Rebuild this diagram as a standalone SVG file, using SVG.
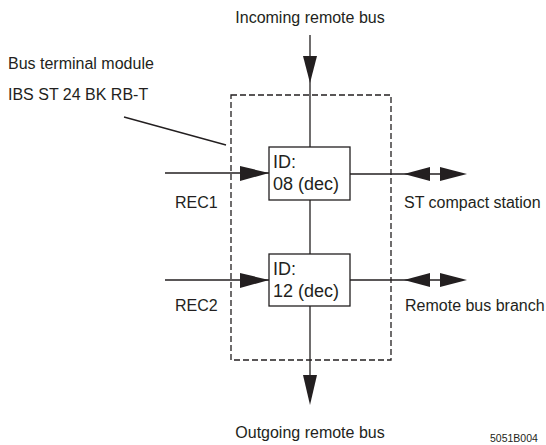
<svg xmlns="http://www.w3.org/2000/svg" width="546" height="445" viewBox="0 0 546 445">
<style>
.t{font-family:"Liberation Sans",Arial,sans-serif;font-size:16px;fill:#231f20}
.b{font-family:"Liberation Sans",Arial,sans-serif;font-size:18px;fill:#231f20}
.s{font-family:"Liberation Sans",Arial,sans-serif;font-size:10.5px;fill:#231f20}
.ln{stroke:#231f20;stroke-width:1.3;fill:none}
.ah{fill:#231f20;stroke:none}
.box{fill:#fff;stroke:#231f20;stroke-width:1.3}
.dash{fill:none;stroke:#231f20;stroke-width:1.3;stroke-dasharray:6,3}
</style>
<rect width="546" height="445" fill="#fff"/>
<g id="module">
<rect class="dash" x="231" y="95" width="160" height="265"/>
</g>
<g id="connectors">
<line class="ln" x1="310" y1="35" x2="310" y2="147"/>
<polygon class="ah" points="303,56 317,56 310,83"/>
<line class="ln" x1="310" y1="200" x2="310" y2="254"/>
<line class="ln" x1="310" y1="306" x2="310" y2="378"/>
<polygon class="ah" points="303,375 317,375 310,405"/>
<line class="ln" x1="165" y1="173" x2="269" y2="173"/>
<polygon class="ah" points="240,166 240,181 269,173"/>
<line class="ln" x1="165" y1="280" x2="269" y2="280"/>
<polygon class="ah" points="240,273 240,288 269,280"/>
<line class="ln" x1="350" y1="174" x2="442" y2="174"/>
<polygon class="ah" points="404,174 430,167 430,181"/>
<polygon class="ah" points="440,167 440,181 467,174"/>
<line class="ln" x1="350" y1="280" x2="442" y2="280"/>
<polygon class="ah" points="404,280 430,273 430,287"/>
<polygon class="ah" points="440,273 440,287 467,280"/>
<line class="ln" x1="124" y1="117" x2="226" y2="145"/>
</g>
<g id="node1">
<rect class="box" x="269" y="147" width="81" height="53"/>
<text class="b" x="273" y="168">ID:</text>
<text class="b" x="273" y="190">08 (dec)</text>
</g>
<g id="node2">
<rect class="box" x="269" y="254" width="81" height="52"/>
<text class="b" x="273" y="275">ID:</text>
<text class="b" x="273" y="297">12 (dec)</text>
</g>
<g id="labels">
<text class="t" x="310" y="23" text-anchor="middle">Incoming remote bus</text>
<text class="t" x="8" y="69">Bus terminal module</text>
<text class="t" x="8" y="100">IBS ST 24 BK RB-T</text>
<text class="t" x="175" y="208">REC1</text>
<text class="t" x="175" y="311">REC2</text>
<text class="t" x="404" y="208">ST compact station</text>
<text class="t" x="405" y="311">Remote bus branch</text>
<text class="t" x="310" y="438" text-anchor="middle">Outgoing remote bus</text>
<text class="s" x="490" y="442">5051B004</text>
</g>
</svg>
